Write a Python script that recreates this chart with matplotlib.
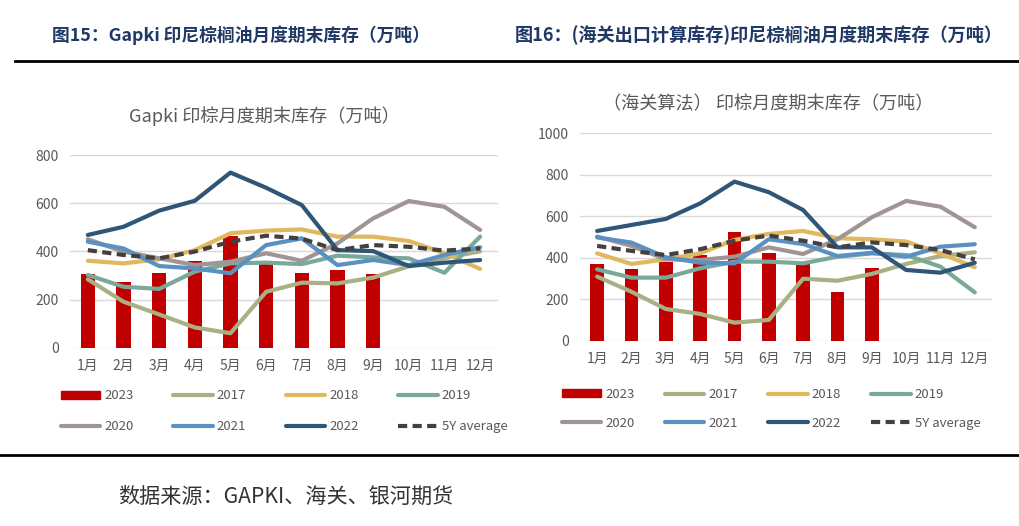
import matplotlib.pyplot as plt
from matplotlib.lines import Line2D
from matplotlib.patches import Patch

plt.rcParams["font.family"] = ["Noto Sans CJK SC", "DejaVu Sans"]

# === DATA ===

months = ["1月", "2月", "3月", "4月", "5月", "6月", "7月", "8月", "9月", "10月", "11月", "12月"]

# Gapki (left chart)
gapki_2023 = [308, 274, 311, 361, 465, 350, 311, 322, 308]
gapki_2017 = [284, 191, 138, 84, 60, 232, 270, 267, 291, 338, 372, 400]
gapki_2018 = [361, 350, 367, 405, 475, 486, 491, 461, 461, 443, 392, 327]
gapki_2019 = [302, 253, 244, 316, 350, 353, 347, 382, 375, 371, 311, 461]
gapki_2020 = [450, 399, 371, 343, 357, 392, 361, 433, 537, 609, 585, 489]
gapki_2021 = [440, 412, 339, 329, 309, 426, 454, 343, 364, 343, 385, 417]
gapki_2022 = [468, 502, 569, 610, 727, 664, 592, 405, 401, 339, 353, 364]
gapki_5y = [405, 385, 371, 399, 440, 465, 453, 405, 426, 419, 403, 412]

# customs-based estimate (right chart)
customs_2023 = [368, 344, 381, 413, 524, 421, 373, 236, 349]
customs_2017 = [309, 236, 153, 129, 87, 100, 299, 289, 322, 370, 408, 426]
customs_2018 = [421, 370, 392, 421, 486, 515, 529, 494, 489, 478, 421, 354]
customs_2019 = [344, 304, 304, 349, 381, 381, 373, 405, 421, 413, 357, 233]
customs_2020 = [502, 457, 392, 389, 405, 450, 418, 489, 595, 674, 646, 547]
customs_2021 = [498, 473, 402, 376, 373, 489, 466, 408, 424, 405, 453, 465]
customs_2022 = [529, 558, 587, 662, 767, 716, 630, 450, 450, 341, 328, 376]
customs_5y = [457, 433, 413, 441, 482, 507, 482, 450, 474, 461, 437, 392]

line_years = ["2017", "2018", "2019", "2020", "2021", "2022"]
line_colors = ["#A8B183", "#E0B85E", "#79A999", "#A09494", "#5A90C2", "#2F5677"]
bar_color = "#C00000"
avg_color = "#454040"
grid_color = "#D9D9D9"
text_gray = "#595959"
avg_dash = (0, (2.2, 1.3))

W, H = 1020, 526


def draw_panel(ax, bars, lines, avg, ymax, legend_x, legend_y, col_space, label_space):
    x = list(range(len(months)))
    ax.set_axisbelow(True)
    for y in range(0, ymax + 1, 200):
        ax.axhline(y, color=grid_color, lw=1.0, zorder=0)
    ax.bar(x[: len(bars)], bars, width=0.4, color=bar_color, zorder=2)
    for series, color in zip(lines, line_colors):
        ax.plot(x, series, color=color, lw=3.0, solid_capstyle="round", zorder=3)
    ax.plot(x, avg, color=avg_color, lw=3.0, ls=avg_dash, zorder=4)

    ax.set_xlim(-0.5, 11.5)
    ax.set_ylim(0, ymax)
    ax.set_xticks(x)
    ax.set_xticklabels(months)
    ax.set_yticks(range(0, ymax + 1, 200))
    ax.tick_params(length=0, labelsize=10, labelcolor=text_gray, pad=8)
    for spine in ax.spines.values():
        spine.set_visible(False)

    handles = [Patch(color=bar_color, label="2023")]
    handles += [Line2D([], [], color=c, lw=3.0, solid_capstyle="round", label=y)
                for y, c in zip(line_years, line_colors)]
    handles.append(Line2D([], [], color=avg_color, lw=3.0, ls=avg_dash, label="5Y average"))
    # legend fills column by column, reorder so rows read left to right
    order = [0, 4, 1, 5, 2, 6, 3, 7]
    leg = ax.legend(
        [handles[i] for i in order],
        [handles[i].get_label() for i in order],
        ncol=4,
        loc="upper center",
        bbox_to_anchor=(legend_x, legend_y),
        frameon=False,
        fontsize=9.5,
        handlelength=3.0,
        handleheight=0.55,
        handletextpad=0.3,
        columnspacing=col_space,
        labelspacing=label_space,
    )
    for t in leg.get_texts():
        t.set_color(text_gray)


fig = plt.figure(figsize=(W / 100, H / 100), dpi=100)

ax_left = fig.add_axes([0.0686, 0.339, 0.4196, 0.3663])
draw_panel(
    ax_left,
    gapki_2023,
    [gapki_2017, gapki_2018, gapki_2019, gapki_2020, gapki_2021, gapki_2022],
    gapki_5y,
    800,
    0.5,
    -0.155,
    3.0,
    1.35,
)

ax_right = fig.add_axes([0.5686, 0.3523, 0.4039, 0.3943])
draw_panel(
    ax_right,
    customs_2023,
    [customs_2017, customs_2018, customs_2019, customs_2020, customs_2021, customs_2022],
    customs_5y,
    1000,
    0.464,
    -0.17,
    2.3,
    1.2,
)

# chart titles
fig.text(264 / W, 1 - 116 / H, "Gapki 印棕月度期末库存（万吨）",
         fontsize=13.1, color=text_gray, ha="center", va="center")
fig.text(768 / W, 1 - 104 / H, "（海关算法） 印棕月度期末库存（万吨）",
         fontsize=13.1, color=text_gray, ha="center", va="center")

# headers and rules
header_color = "#1F3864"
fig.text(52 / W, 1 - 35 / H, "图15：Gapki 印尼棕榈油月度期末库存（万吨）",
         fontsize=12.8, fontweight="bold", color=header_color, va="center")
fig.text(515 / W, 1 - 35 / H, "图16：(海关出口计算库存)印尼棕榈油月度期末库存（万吨）",
         fontsize=13.1, fontweight="bold", color=header_color, va="center")
fig.add_artist(Line2D([15 / W, 1], [1 - 61 / H] * 2, color="black", lw=2))
fig.add_artist(Line2D([0, 1], [1 - 455 / H] * 2, color="black", lw=2))
fig.text(118 / W, 1 - 497 / H, "数据来源：GAPKI、海关、银河期货",
         fontsize=15.2, color="#333333", va="center")

fig.savefig("out.png", dpi=100)
